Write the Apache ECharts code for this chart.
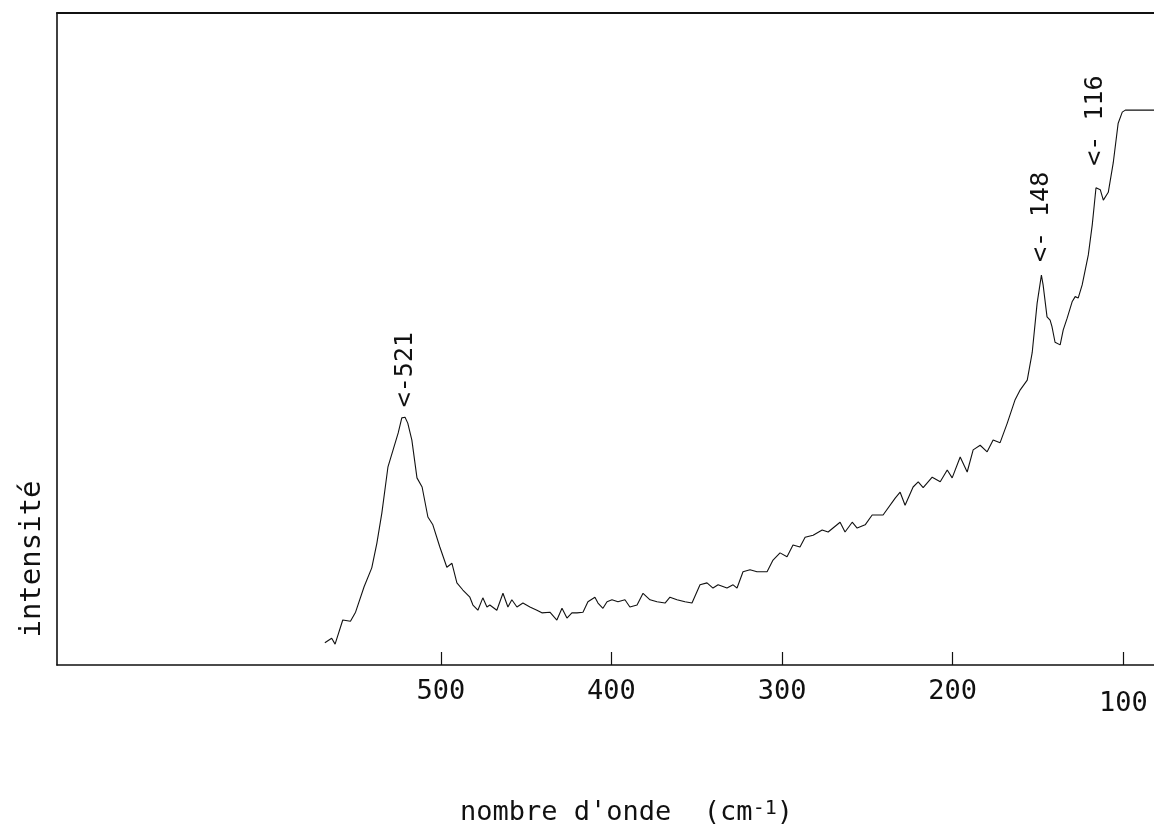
<!DOCTYPE html>
<html>
<head>
<meta charset="utf-8">
<title>Spectre Raman</title>
<script src="https://cdn.jsdelivr.net/npm/echarts@6/dist/echarts.min.js"></script>
<style>
  html, body { margin: 0; padding: 0; background: #fff; }
  #chart { width: 1154px; height: 837px; }
</style>
</head>
<body>
<div id="chart"></div>
<script>
// Raman spectrum: wavenumber (cm-1) and relative intensity
const wavenumber = [568, 564, 562, 557.5, 553, 550, 545, 540.5, 537.5, 534.6, 531, 528, 525, 522.9, 521, 519.4, 517, 514, 511, 507.6, 504.7, 500.6, 496.5, 493.5, 490.6, 487.1, 483, 481.2, 478.3, 475.4, 473, 471.3, 467.2, 463.6, 460.7, 458.4, 455.4, 451.9, 447.8, 443.7, 440.8, 436.1, 432, 429, 426.1, 423.2, 420.2, 416.7, 413.8, 409.7, 407.9, 405, 402.6, 399.7, 396.2, 392.1, 389.2, 385, 381.5, 377.4, 373.3, 368.6, 365.7, 361.6, 356.9, 352.8, 348.1, 344, 340.5, 337.5, 332.3, 328.7, 326.4, 322.9, 318.8, 314.7, 308.8, 305.3, 301.2, 297.1, 293.6, 289.5, 286.5, 281.8, 276.5, 273, 266, 263.1, 258.9, 256, 251.3, 247.2, 240.8, 233.7, 230.8, 227.9, 223.2, 220.2, 217.3, 212, 207.3, 203.2, 200.3, 195.6, 191.5, 188, 183.9, 179.8, 176.3, 172.2, 168, 163.4, 160.4, 156.3, 153.4, 150.5, 148, 147, 144.7, 142.9, 141.8, 140, 137, 135.2, 132.9, 130, 128.2, 126.4, 124.1, 122.3, 120.5, 118.2, 117, 116, 113.5, 111.7, 108.8, 105.9, 103, 100.6, 98.8, 82];
const intensity = [3.4, 4.1, 3.2, 6.9, 6.7, 8.1, 12.0, 14.9, 18.7, 23.3, 30.4, 33.0, 35.6, 37.9, 38.0, 37.1, 34.5, 28.7, 27.3, 22.7, 21.5, 18.1, 15.0, 15.6, 12.6, 11.5, 10.4, 9.2, 8.4, 10.3, 8.9, 9.2, 8.4, 11.0, 8.9, 10.0, 8.9, 9.5, 8.9, 8.4, 8.0, 8.1, 6.9, 8.7, 7.2, 8.0, 8.0, 8.1, 9.7, 10.4, 9.5, 8.7, 9.7, 10.0, 9.7, 10.0, 8.9, 9.2, 11.0, 10.0, 9.7, 9.5, 10.4, 10.0, 9.7, 9.5, 12.3, 12.6, 11.8, 12.3, 11.8, 12.3, 11.8, 14.3, 14.6, 14.3, 14.3, 16.1, 17.2, 16.6, 18.4, 18.1, 19.6, 19.9, 20.7, 20.4, 21.9, 20.4, 21.9, 21.0, 21.5, 23.0, 23.0, 25.6, 26.5, 24.5, 27.3, 28.1, 27.2, 28.8, 28.1, 29.9, 28.7, 31.9, 29.6, 33.0, 33.7, 32.7, 34.5, 34.1, 37.1, 40.7, 42.2, 43.7, 47.9, 55.5, 59.8, 58.3, 53.4, 52.9, 51.9, 49.5, 49.1, 51.4, 53.2, 55.7, 56.5, 56.3, 58.3, 60.6, 62.9, 67.5, 70.6, 73.2, 72.9, 71.3, 72.5, 77.0, 83.1, 84.8, 85.1, 85.1];

// labelled bands
const peakPositions = [521, 148, 116];
const peakLabels = ['<-521', '<- 148', '<- 116'];

// x axis tick values
const tickValues = [100, 200, 300, 400, 500];

const FONT = 'DejaVu Sans Mono';
const INK = '#111';

const points = wavenumber.map((w, i) => [w, intensity[i]]);
// distance between each band maximum and the start of its label
const labelGaps = [10, 13, 22];

const peakMarks = peakPositions.map((p, i) => ({
  coord: [p, intensity[wavenumber.indexOf(p)]],
  label: {
    formatter: peakLabels[i],
    // offset is expressed in the rotated label frame: +x runs upward
    offset: [labelGaps[i], 0]
  }
}));

const chart = echarts.init(document.getElementById('chart'), null, { renderer: 'canvas' });

chart.setOption({
  animation: false,
  backgroundColor: '#fff',
  grid: { left: 57, right: 0, top: 13, bottom: 172 },
  xAxis: [
    {
      type: 'value',
      inverse: true,
      min: 82,
      max: 725,
      position: 'bottom',
      name: 'nombre d\'onde  {c|(cm}{s|-1}{c|)}',
      nameLocation: 'middle',
      nameGap: 134,
      nameTextStyle: {
        fontFamily: FONT,
        fontSize: 27,
        color: INK,
        padding: [0, 0, 0, 42],
        rich: {
          c: { fontFamily: FONT, fontSize: 27, color: INK },
          s: { fontFamily: FONT, fontSize: 20, color: INK, verticalAlign: 'bottom', padding: [0, 0, 8, 0] }
        }
      },
      axisLine: { show: true, lineStyle: { color: INK, width: 1.6 } },
      axisTick: {
        show: true,
        inside: true,
        length: 13,
        customValues: tickValues,
        lineStyle: { color: INK, width: 1.2 }
      },
      axisLabel: {
        show: true,
        customValues: tickValues,
        margin: 13,
        fontFamily: FONT,
        fontSize: 27,
        color: INK,
        formatter: v => (v === 100 ? '{low|' + v + '}' : String(v)),
        rich: {
          low: { fontFamily: FONT, fontSize: 27, color: INK, padding: [12, 0, 0, 0] }
        }
      },
      splitLine: { show: false }
    },
    {
      type: 'value',
      inverse: true,
      min: 82,
      max: 725,
      position: 'top',
      axisLine: { show: true, lineStyle: { color: INK, width: 2 } },
      axisTick: { show: false },
      axisLabel: { show: false },
      splitLine: { show: false }
    }
  ],
  yAxis: {
    type: 'value',
    min: 0,
    max: 100,
    axisLine: { show: true, lineStyle: { color: INK, width: 1.6 } },
    axisTick: { show: false },
    axisLabel: { show: false },
    splitLine: { show: false }
  },
  graphic: [
    {
      type: 'text',
      x: 32,
      y: 559,
      rotation: Math.PI / 2,
      style: {
        text: 'intensité',
        fontFamily: FONT,
        fontSize: 29,
        fill: INK,
        align: 'center',
        verticalAlign: 'middle'
      }
    }
  ],
  series: [
    {
      type: 'line',
      xAxisIndex: 0,
      data: points,
      showSymbol: false,
      smooth: false,
      lineStyle: { color: INK, width: 1.1 },
      markPoint: {
        symbol: 'circle',
        symbolSize: 0,
        silent: true,
        label: {
          show: true,
          position: 'inside',
          rotate: 90,
          align: 'left',
          verticalAlign: 'middle',
          fontFamily: FONT,
          fontSize: 25,
          color: INK
        },
        data: peakMarks
      }
    }
  ]
});
</script>
</body>
</html>
